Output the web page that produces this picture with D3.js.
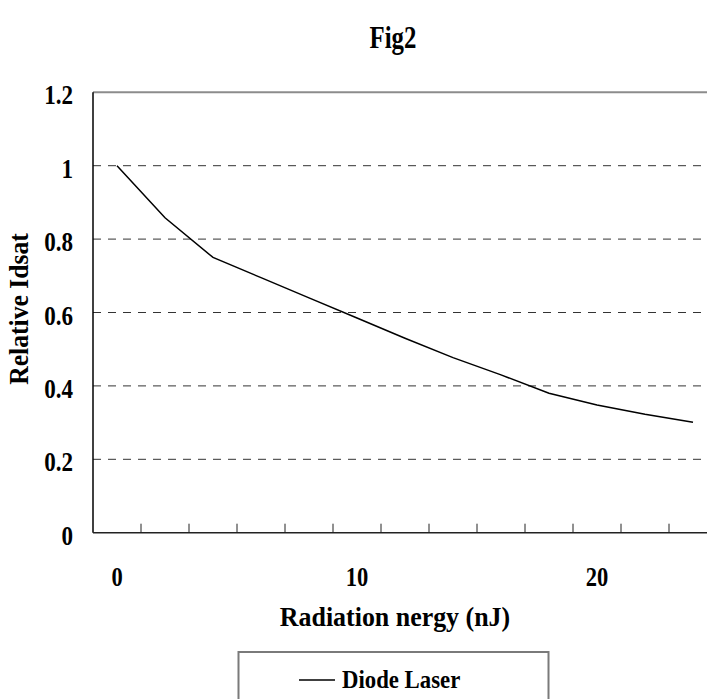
<!DOCTYPE html>
<html>
<head>
<meta charset="utf-8">
<script src="https://cdn.jsdelivr.net/npm/d3@7"></script>
<style>
  html, body { margin: 0; padding: 0; background: #fff; }
  svg { display: block; }
  text { font-family: "Liberation Serif", "Times New Roman", serif; font-weight: bold; fill: #000; }
</style>
</head>
<body>
<svg id="chart" width="707" height="699"></svg>
<script>
// ---- data ----
const categories = [0, 2, 4, 6, 8, 10, 12, 14, 16, 18, 20, 22, 24];
const diodeLaser = [1.0, 0.858, 0.75, 0.695, 0.64, 0.585, 0.53, 0.477, 0.43, 0.38, 0.348, 0.323, 0.301];
const yTicks = [0, 0.2, 0.4, 0.6, 0.8, 1, 1.2];
const xLabels = [0, 10, 20];
const seriesName = "Diode Laser";
const titleText = "Fig2";
const xTitle = "Radiation nergy (nJ)";
const yTitle = "Relative Idsat";

// ---- layout ----
const W = 707, H = 699;
const plot = { left: 93, right: 717, top: 92.3, bottom: 532.7 };

const svg = d3.select("#chart");

const x = d3.scaleBand().domain(categories).range([plot.left, plot.right]).padding(0);
const y = d3.scaleLinear().domain([0, 1.2]).range([plot.bottom, plot.top]);
const cx = d => x(d) + x.bandwidth() / 2;

// condensed text helper (x-scaled glyphs)
function ctext(g, tx, ty, str, size, sx, anchor, rot) {
  return g.append("text")
    .attr("transform", `translate(${tx},${ty})` + (rot ? ` rotate(${rot})` : "") + ` scale(${sx},1)`)
    .attr("text-anchor", anchor || "start")
    .attr("font-size", size)
    .text(str);
}

// gridlines (dashed)
svg.append("g")
  .selectAll("line")
  .data(yTicks.filter(t => t > 0 && t < 1.2))
  .join("line")
  .attr("x1", plot.left).attr("x2", W)
  .attr("y1", d => y(d)).attr("y2", d => y(d))
  .attr("stroke", "#333")
  .attr("stroke-width", 1)
  .attr("stroke-dasharray", "8,7");

// top border (gray)
svg.append("line")
  .attr("x1", plot.left).attr("x2", W)
  .attr("y1", y(1.2)).attr("y2", y(1.2))
  .attr("stroke", "#8c8c8c").attr("stroke-width", 2);

// y axis line
svg.append("line")
  .attr("x1", plot.left).attr("x2", plot.left)
  .attr("y1", y(1.2)).attr("y2", y(0))
  .attr("stroke", "#000").attr("stroke-width", 1.5);

// x axis line
svg.append("line")
  .attr("x1", plot.left).attr("x2", W)
  .attr("y1", y(0)).attr("y2", y(0))
  .attr("stroke", "#222").attr("stroke-width", 1.5);

// x tick marks at category boundaries (inside)
const boundaries = categories.map(c => x(c)).slice(1);
svg.append("g")
  .selectAll("line")
  .data(boundaries)
  .join("line")
  .attr("x1", d => d).attr("x2", d => d)
  .attr("y1", y(0)).attr("y2", y(0) - 9)
  .attr("stroke", "#222").attr("stroke-width", 1);

// y tick labels
const gy = svg.append("g");
yTicks.forEach(t => ctext(gy, 73, y(t) + 12, d3.format("")(t), 26.5, 0.87, "end"));

// x tick labels
const gx = svg.append("g");
xLabels.forEach(v => ctext(gx, cx(v), 586, String(v), 26.5, 0.85, "middle"));

// series line
const line = d3.line()
  .x((d, i) => cx(categories[i]))
  .y(d => y(d));
svg.append("path")
  .datum(diodeLaser)
  .attr("d", line)
  .attr("fill", "none")
  .attr("stroke", "#000")
  .attr("stroke-width", 1.5);

// title
ctext(svg, 393, 48, titleText, 31, 0.8, "middle");

// x axis title
ctext(svg, 395, 626, xTitle, 27, 0.96, "middle");

// y axis title
ctext(svg, 28, 309, yTitle, 27, 0.95, "middle", -90);

// legend
const lg = svg.append("g");
lg.append("rect")
  .attr("x", 238.5).attr("y", 652)
  .attr("width", 310).attr("height", 70)
  .attr("fill", "#fff")
  .attr("stroke", "#7a7a7a").attr("stroke-width", 2);
lg.append("line")
  .attr("x1", 299).attr("x2", 335)
  .attr("y1", 680).attr("y2", 680)
  .attr("stroke", "#000").attr("stroke-width", 1.5);
ctext(lg, 342, 688, seriesName, 24.5, 0.93, "start");
</script>
</body>
</html>
